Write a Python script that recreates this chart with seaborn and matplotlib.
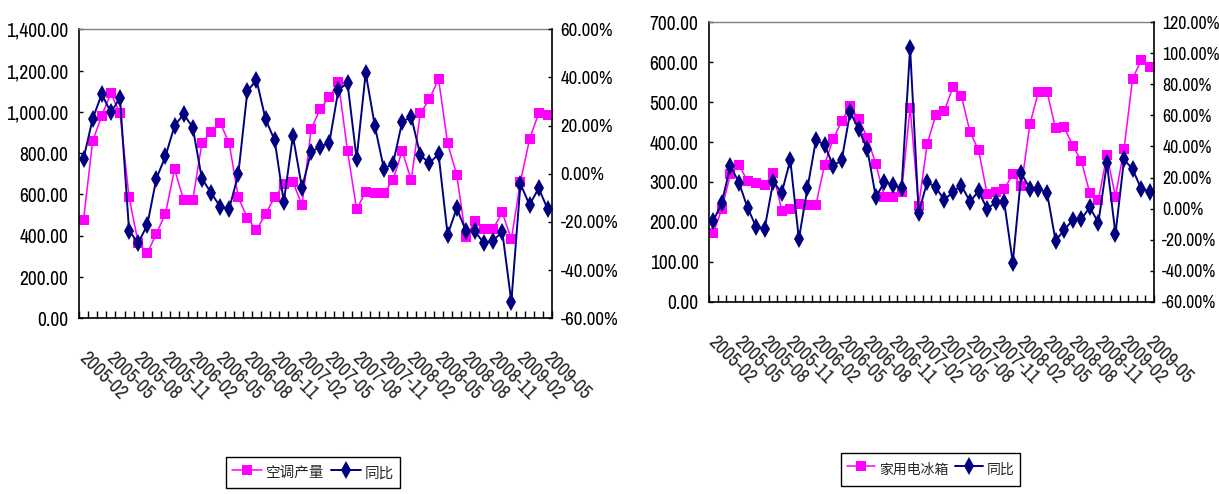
import numpy as np
import matplotlib
matplotlib.use("Agg")
import matplotlib.pyplot as plt
from matplotlib.ticker import FuncFormatter, MultipleLocator
from matplotlib.transforms import ScaledTranslation
import seaborn as sns

# Category axis: monthly data 2005-02 .. 2009-05, labelled every third month
month_labels = ["2005-02", "2005-05", "2005-08", "2005-11",
                "2006-02", "2006-05", "2006-08", "2006-11",
                "2007-02", "2007-05", "2007-08", "2007-11",
                "2008-02", "2008-05", "2008-08", "2008-11",
                "2009-02", "2009-05"]
label_step = 3

# Air-conditioner output (left axis) and year-on-year change in % (right axis)
ac_output = [478, 858, 982, 1090, 993, 586, 366, 315, 410, 507,
             722, 573, 573, 848, 904, 948, 848, 586, 486, 428,
             507, 586, 649, 662, 547, 916, 1014, 1071, 1145, 811,
             528, 613, 606, 606, 670, 811, 670, 993, 1062, 1159,
             848, 694, 392, 471, 434, 434, 513, 383, 662, 867,
             993, 983]
ac_yoy = [6.3, 22.8, 33.1, 25.5, 31.5, -23.6, -28.7, -21.3, -2.0, 7.3,
          19.9, 24.8, 19.2, -2.0, -7.8, -13.6, -14.5, -0.2, 34.3, 39.0,
          22.6, 13.9, -11.7, 15.8, -5.9, 9.2, 11.1, 12.9, 34.8, 37.7,
          6.3, 41.9, 19.9, 2.1, 4.1, 21.5, 23.7, 7.7, 4.4, 8.2,
          -25.3, -14.3, -23.6, -23.9, -28.9, -27.8, -24.0, -53.1, -4.2, -12.9,
          -6.0, -14.7]

# Household refrigerator output (left axis) and year-on-year change in %
fridge_output = [171, 233, 319, 343, 302, 298, 292, 323, 228, 231,
                 246, 243, 243, 343, 407, 452, 490, 457, 411, 344,
                 263, 262, 274, 486, 240, 396, 467, 478, 537, 515,
                 425, 380, 270, 274, 282, 320, 290, 445, 526, 526,
                 434, 438, 391, 353, 272, 255, 367, 263, 383, 559,
                 605, 587]
fridge_yoy = [-8.0, 3.8, 27.6, 16.7, 0.6, -11.7, -13.0, 17.3, 10.2, 31.3,
              -19.6, 13.0, 44.2, 41.1, 27.6, 31.1, 62.2, 51.0, 38.2, 7.3,
              17.3, 15.2, 13.0, 103.3, -2.7, 17.3, 13.7, 5.5, 10.8, 14.8,
              4.4, 11.3, -0.3, 4.0, 4.0, -34.9, 22.7, 12.8, 12.8, 10.2,
              -20.7, -13.8, -7.4, -6.7, 0.8, -9.1, 29.2, -16.4, 31.7, 25.3,
              12.8, 10.9]

OUTPUT_COLOR = "#FF00FF"
YOY_COLOR = "#000080"

sns.set_style("white")
plt.rcParams["font.family"] = ["Archivo Narrow", "Roboto Condensed",
                               "Noto Sans CJK SC", "DejaVu Sans"]

FIG_W, FIG_H = 1219, 494
fig = plt.figure(figsize=(FIG_W / 100, FIG_H / 100), dpi=100)
fig.patch.set_facecolor("white")


def px_rect(x0, y0, x1, y1):
    return [x0 / FIG_W, 1 - y1 / FIG_H, (x1 - x0) / FIG_W, (y1 - y0) / FIG_H]


def draw_panel(rect, output, yoy, out_max, out_step, out_fmt,
               yoy_min, yoy_max, yoy_size, name, legend_xy, legend_size, legend_rowh):
    n = len(output)
    x = np.arange(n)

    ax = fig.add_axes(rect)
    sns.lineplot(x=x, y=output, ax=ax, color=OUTPUT_COLOR, marker="s",
                 markersize=6.5, markeredgecolor=OUTPUT_COLOR,
                 markeredgewidth=0, linewidth=1.1, errorbar=None, legend=False)
    ax.set_xlim(-0.5, n - 0.5)
    ax.set_ylim(0, out_max)
    ax.yaxis.set_major_locator(MultipleLocator(out_step))
    ax.yaxis.set_major_formatter(FuncFormatter(lambda v, _: out_fmt.format(v)))
    ax.set_xlabel("")
    ax.set_ylabel("")

    ax.set_xticks(x[::label_step])
    ax.set_xticklabels(month_labels, rotation=-45, ha="left", va="top",
                       rotation_mode="anchor", fontsize=14)
    ax.set_xticks(np.arange(-0.5, n), minor=True)
    ax.tick_params(axis="x", which="major", length=0, pad=22)
    ax.tick_params(axis="x", which="minor", bottom=True, direction="in",
                   length=5, width=1, color="black")
    ax.tick_params(axis="y", left=True, direction="in", length=3, width=1,
                   color="black", pad=7.5, labelsize=14, labelcolor="black")
    # shift the slanted month labels slightly to the right of their category
    nudge = ScaledTranslation(5 / 100, 0, fig.dpi_scale_trans)
    for lbl in ax.get_xticklabels():
        lbl.set_transform(lbl.get_transform() + nudge)

    ax2 = ax.twinx()
    sns.lineplot(x=x, y=yoy, ax=ax2, color=YOY_COLOR, marker="d",
                 markersize=9, markeredgecolor=YOY_COLOR,
                 markeredgewidth=0, linewidth=1.4, errorbar=None, legend=False)
    ax2.set_ylim(yoy_min, yoy_max)
    ax2.yaxis.set_major_locator(MultipleLocator(20))
    ax2.yaxis.set_major_formatter(FuncFormatter(lambda v, _: f"{v:.2f}%"))
    ax2.set_ylabel("")
    ax2.tick_params(axis="y", right=True, direction="in", length=3, width=1,
                    color="black", pad=6, labelsize=yoy_size, labelcolor="black")

    for a in (ax, ax2):
        for s in a.spines.values():
            s.set_visible(False)
    ax.spines["left"].set_visible(True)
    ax.spines["bottom"].set_visible(True)
    ax.spines["top"].set_visible(True)
    ax2.spines["right"].set_visible(True)
    for s in (ax.spines["left"], ax.spines["bottom"], ax2.spines["right"]):
        s.set_color("black")
        s.set_linewidth(1.2)
    ax.spines["top"].set_color("#808080")
    ax.spines["top"].set_linewidth(1.0)

    leg = fig.legend(handles=[ax.lines[0], ax2.lines[0]], labels=[name, "同比"],
                     loc="upper left",
                     bbox_to_anchor=(legend_xy[0] / FIG_W, 1 - legend_xy[1] / FIG_H),
                     bbox_transform=fig.transFigure, ncol=2, frameon=True,
                     fancybox=False, edgecolor="black", framealpha=1,
                     prop={"family": ["Noto Sans CJK SC"], "size": legend_size},
                     handlelength=2.05, handletextpad=0.27, columnspacing=0.48,
                     handleheight=legend_rowh, borderpad=0.4, borderaxespad=0)
    leg.get_frame().set_linewidth(1.0)


draw_panel(px_rect(79, 29.3, 552.3, 318.3), ac_output, ac_yoy,
           1400, 200, "{:,.2f}", -60, 60, 13.5, "空调产量", (226, 457), 10.5, 1.67)
draw_panel(px_rect(709, 22.3, 1154, 301.7), fridge_output, fridge_yoy,
           700, 100, "{:.2f}", -60, 120, 12.8, "家用电冰箱", (841, 453), 10, 2.1)

fig.savefig("out.png", dpi=100, facecolor="white")
